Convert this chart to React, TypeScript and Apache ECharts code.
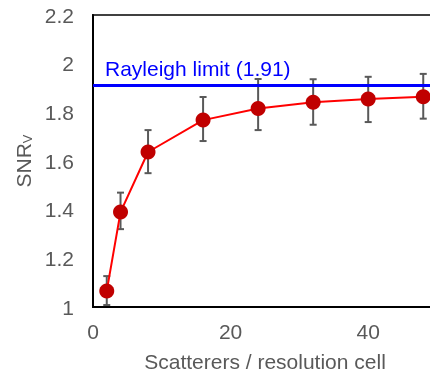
import React, { useEffect, useRef } from "react";
import * as echarts from "echarts";

const scatterers = [2, 4, 8, 16, 24, 32, 40, 48];
const snrValues = [1.066, 1.39, 1.637, 1.768, 1.816, 1.841, 1.855, 1.864];
const errUpper = [1.127, 1.47, 1.727, 1.863, 1.937, 1.936, 1.946, 1.958];
const errLower = [1.008, 1.32, 1.55, 1.682, 1.727, 1.749, 1.76, 1.774];
const rayleighLimit = 1.91;
const rayleighLabel = "Rayleigh limit (1.91)";
const xName = "Scatterers / resolution cell";

const FONT = "Liberation Sans, Arial, sans-serif";
const GRAY = "#595959";
const W = 450;
const H = 374;

export default function App() {
  const ref = useRef<HTMLDivElement>(null);
  useEffect(() => {
    if (!ref.current) return;
    const chart = echarts.init(ref.current, undefined, { renderer: "svg", width: W, height: H });
    const lineData = scatterers.map((x, i) => [x, snrValues[i]]);
    const errData = scatterers.map((x, i) => [x, errLower[i], errUpper[i]]);
    chart.setOption({
      animation: false,
      textStyle: { fontFamily: FONT },
      grid: {
        left: 93,
        top: 15,
        bottom: 67,
        right: W - 437,
        show: true,
        borderColor: "#404040",
        borderWidth: 2,
        backgroundColor: "transparent",
        outerBoundsMode: "none",
        containLabel: false,
      },
      xAxis: {
        type: "value",
        min: 0,
        max: 50,
        interval: 20,
        name: xName,
        nameLocation: "middle",
        nameGap: 44,
        nameTextStyle: { color: GRAY, fontSize: 21, fontFamily: FONT },
        axisLine: { show: true, lineStyle: { color: "#000", width: 2 } },
        axisTick: { show: false },
        splitLine: { show: false },
        axisLabel: { color: GRAY, fontSize: 21, margin: 14, fontFamily: FONT, showMaxLabel: false },
      },
      yAxis: {
        type: "value",
        min: 1,
        max: 2.2,
        interval: 0.2,
        name: "{a|SNR}{b|V}",
        nameLocation: "middle",
        nameGap: 58,
        nameTextStyle: {
          color: GRAY,
          fontFamily: FONT,
          rich: {
            a: { fontSize: 21, color: GRAY, fontFamily: FONT, lineHeight: 24 },
            b: { fontSize: 13, color: GRAY, fontFamily: FONT, padding: [8, 0, 0, 0], lineHeight: 24 },
          },
        },
        axisLine: { show: true, lineStyle: { color: "#000", width: 2 } },
        axisTick: { show: false },
        splitLine: { show: false },
        axisLabel: { color: GRAY, fontSize: 21, margin: 19, fontFamily: FONT },
      },
      series: [
        {
          type: "custom",
          z: 2,
          data: errData,
          renderItem: (params: any, api: any) => {
            const x = api.value(0);
            const lo = api.coord([x, api.value(1)]);
            const hi = api.coord([x, api.value(2)]);
            const cap = 3.5;
            const style = { stroke: "#595959", lineWidth: 2 };
            return {
              type: "group",
              children: [
                { type: "line", shape: { x1: lo[0], y1: lo[1], x2: hi[0], y2: hi[1] }, style },
                { type: "line", shape: { x1: lo[0] - cap, y1: lo[1], x2: lo[0] + cap, y2: lo[1] }, style },
                { type: "line", shape: { x1: hi[0] - cap, y1: hi[1], x2: hi[0] + cap, y2: hi[1] }, style },
              ],
            };
          },
        },
        {
          type: "line",
          z: 3,
          data: lineData,
          symbol: "circle",
          symbolSize: 15,
          lineStyle: { color: "#ff0000", width: 2 },
          itemStyle: { color: "#c00000", borderWidth: 0 },
          markLine: {
            silent: true,
            symbol: ["none", "none"],
            lineStyle: { color: "#0000ff", width: 3, type: "solid" },
            label: {
              show: true,
              position: "insideStartTop",
              formatter: rayleighLabel,
              color: "#0000ff",
              fontSize: 21,
              fontFamily: FONT,
              distance: [12, 7],
            },
            data: [{ yAxis: rayleighLimit }],
          },
        },
      ],
    });
    return () => chart.dispose();
  }, []);
  return (
    <div style={{ position: "fixed", left: 0, top: 0, width: 430, height: 374, overflow: "hidden" }}>
      <div ref={ref} style={{ width: W, height: H }} />
    </div>
  );
}
